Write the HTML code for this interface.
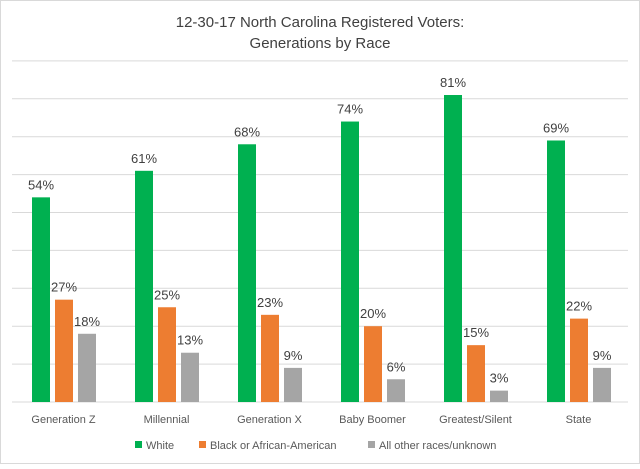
<!DOCTYPE html>
<html><head><meta charset="utf-8"><style>
body{margin:0;background:#fff;font-family:"Liberation Sans",sans-serif;}
#wrap{position:relative;width:640px;height:464px;}
</style></head><body>
<div id="wrap">
<svg id="svg" width="640" height="464">
<rect x="0.5" y="0.5" width="639" height="463" fill="#fff" stroke="#d9d9d9"/>
<text x="320" y="27" text-anchor="middle" font-size="15" fill="#404040">12-30-17 North Carolina Registered Voters:</text>
<text x="320" y="48" text-anchor="middle" font-size="15" fill="#404040">Generations by Race</text>
<g id="grid"></g><g id="bars"></g><g id="labels"></g>
<g>
<rect x="135" y="441" width="7" height="7" fill="#00b050"/>
<text x="146" y="449" font-size="11" fill="#595959">White</text>
<rect x="199" y="441" width="7" height="7" fill="#ed7d31"/>
<text x="210" y="449" font-size="11" fill="#595959">Black or African-American</text>
<rect x="368" y="441" width="7" height="7" fill="#a5a5a5"/>
<text x="379" y="449" font-size="11" fill="#595959">All other races/unknown</text>
</g>
</svg></div>
<script>
const categories=["Generation Z","Millennial","Generation X","Baby Boomer","Greatest/Silent","State"];
const white=[54,61,68,74,81,69];
const black=[27,25,23,20,15,22];
const other=[18,13,9,6,3,9];
const ticks=[0,10,20,30,40,50,60,70,80,90];
const NS="http://www.w3.org/2000/svg";
const x0=12,gw=103,base=402,ppu=3.79;
const y=v=>base-v*ppu;
function mk(t,a,p){const e=document.createElementNS(NS,t);for(const k in a)e.setAttribute(k,a[k]);p.appendChild(e);return e;}
const grid=document.getElementById('grid'),bars=document.getElementById('bars'),labs=document.getElementById('labels');
ticks.forEach(t=>{const l=mk('line',{x1:12,x2:628,y1:y(t),y2:y(t),stroke:'#d9d9d9','stroke-width':1},grid);

});
const series=[[white,'#00b050','white'],[black,'#ed7d31','black'],[other,'#a5a5a5','other']];
categories.forEach((c,i)=>{
 const gx=x0+i*gw;
 series.forEach((s,j)=>{
  const v=s[0][i],bx=gx+20+j*23;
  const r=mk('rect',{x:bx,y:y(v),width:18,height:v*ppu,fill:s[1]},bars);
  
  
  const t=mk('text',{x:bx+9,y:y(v)-8,'text-anchor':'middle','font-size':13,fill:'#404040'},labs);
  t.textContent=v+'%';
  
  
 });
 const ct=mk('text',{x:gx+51.5,y:423,'text-anchor':'middle','font-size':11,fill:'#595959'},labs);
 ct.textContent=c;
 
 
});
</script>
</body></html>
